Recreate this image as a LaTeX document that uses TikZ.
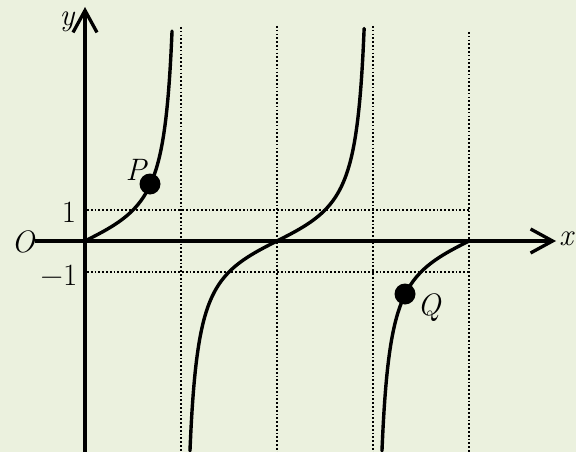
\documentclass[tikz,border=0pt]{standalone}
\usepackage{fontspec}
\usetikzlibrary{arrows.meta}
\definecolor{bg}{RGB}{235,241,222}
\begin{document}
\begin{tikzpicture}[x=1pt,y=-1pt,
  axis/.style={line width=3.3pt,-{Straight Barb[length=22pt,width=24pt]}},
  guide/.style={line width=1.7pt,dash pattern=on 1.7pt off 2.1pt},
  curve/.style={line width=3.4pt,smooth,line cap=round},
  lbl/.style={font=\fontsize{31}{31}\selectfont,inner sep=0pt},
  ilbl/.style={lbl,font=\fontsize{31}{31}\selectfont\itshape},
  dotnode/.style={circle,fill=black,minimum size=21pt,inner sep=0pt}]
\fill[bg] (0,0) rectangle (576,452);
\useasboundingbox (0,0) rectangle (576,452);
% guide lines
\coordinate (v1t) at (181,27);  \coordinate (v1b) at (181,452);
\coordinate (v2t) at (277,26);  \coordinate (v2b) at (277,452);
\coordinate (v3t) at (373,26);  \coordinate (v3b) at (373,452);
\coordinate (v4t) at (469,32);  \coordinate (v4b) at (469,452);
\coordinate (h1l) at (87,210);  \coordinate (h1r) at (469,210);
\coordinate (h2l) at (87,272);  \coordinate (h2r) at (469,272);
\draw[guide] (v1t) -- (v1b);
\draw[guide] (v2t) -- (v2b);
\draw[guide] (v3t) -- (v3b);
\draw[guide] (v4t) -- (v4b);
\draw[guide] (h1l) -- (h1r);
\draw[guide] (h2l) -- (h2r);
% axes
\coordinate (xs) at (35,241);  \coordinate (xe) at (556,241);
\coordinate (ys) at (85,452);  \coordinate (ye) at (85,7);
\draw[axis] (xs) -- (xe);
\draw[axis] (ys) -- (ye);
% curve branches
\draw[curve] plot[domain=0:81.6,samples=90] ({85+\x*1.0666667},{241-31*tan(\x)});
\draw[curve] plot[domain=98.4:261.7,samples=160] ({85+\x*1.0666667},{241-31*tan(\x)});
\draw[curve] plot[domain=278.4:360,samples=90] ({85+\x*1.0666667},{241-31*tan(\x)});
% points
\node[dotnode] (P) at (150,184) {};
\node[dotnode] (Q) at (405,294) {};
% labels
\node[ilbl] (Plbl) at (136,170) {P};
\node[ilbl] (Qlbl) at (429,308) {Q};
\node[ilbl] (O) at (23,242) {O};
\node[lbl] (one) at (69,212) {1};
\node[lbl] (mone) at (59,275) {−1};
\node[ilbl] (xl) at (566,239) {x};
\node[ilbl] (yl) at (67,22) {y};
\end{tikzpicture}
\end{document}
